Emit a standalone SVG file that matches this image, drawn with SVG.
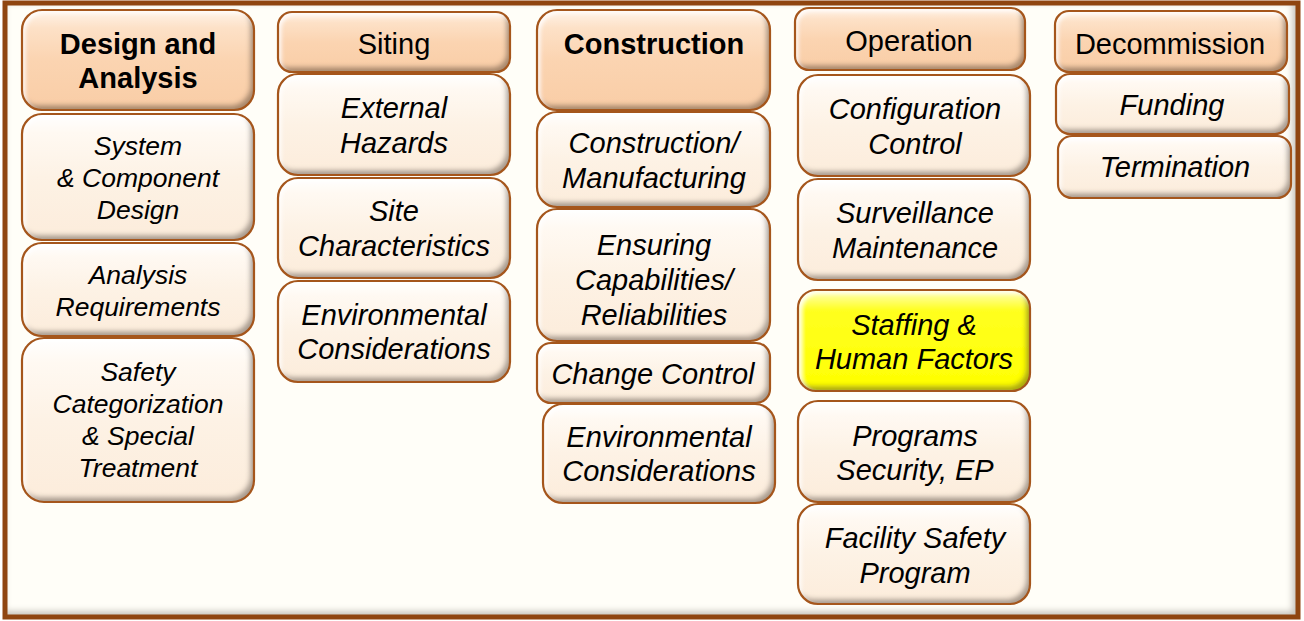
<svg xmlns="http://www.w3.org/2000/svg" width="1304" height="621" viewBox="0 0 1304 621">
  <defs>
    <linearGradient id="gHead" x1="0" y1="0" x2="0" y2="1">
      <stop offset="0" stop-color="#fff4ea"/>
      <stop offset="0.18" stop-color="#fde1c7"/>
      <stop offset="0.5" stop-color="#fbd4b1"/>
      <stop offset="1" stop-color="#f9cda6"/>
    </linearGradient>
    <linearGradient id="gItem" x1="0" y1="0" x2="0" y2="1">
      <stop offset="0" stop-color="#ffffff"/>
      <stop offset="0.15" stop-color="#fff9f2"/>
      <stop offset="0.5" stop-color="#fdf2e5"/>
      <stop offset="1" stop-color="#fcecdb"/>
    </linearGradient>
    <linearGradient id="gHi" x1="0" y1="0" x2="0" y2="1">
      <stop offset="0" stop-color="#ffffc0"/>
      <stop offset="0.2" stop-color="#ffff20"/>
      <stop offset="1" stop-color="#ffff00"/>
    </linearGradient>
    <!-- inner shading on the lower-right edge of each tile, light on the upper-left -->
    <filter id="bevel" x="-5%" y="-10%" width="110%" height="120%">
      <feOffset in="SourceAlpha" dx="-4" dy="-5" result="off"/>
      <feGaussianBlur in="off" stdDeviation="2.5" result="blur"/>
      <feComposite in="SourceAlpha" in2="blur" operator="out" result="edge"/>
      <feFlood flood-color="#3e2818" flood-opacity="0.62"/>
      <feComposite in2="edge" operator="in" result="shade"/>
      <feOffset in="SourceAlpha" dx="3" dy="3" result="off2"/>
      <feGaussianBlur in="off2" stdDeviation="2" result="blur2"/>
      <feComposite in="SourceAlpha" in2="blur2" operator="out" result="edge2"/>
      <feFlood flood-color="#ffffff" flood-opacity="0.9"/>
      <feComposite in2="edge2" operator="in" result="light"/>
      <feMerge>
        <feMergeNode in="SourceGraphic"/>
        <feMergeNode in="shade"/>
        <feMergeNode in="light"/>
      </feMerge>
    </filter>
    <filter id="frameBevel" x="0" y="0" width="100%" height="100%">
      <feOffset in="SourceAlpha" dx="-6" dy="-6" result="off"/>
      <feGaussianBlur in="off" stdDeviation="3" result="blur"/>
      <feComposite in="SourceAlpha" in2="blur" operator="out" result="edge"/>
      <feFlood flood-color="#6a5a4a" flood-opacity="0.5"/>
      <feComposite in2="edge" operator="in" result="shade"/>
      <feMerge>
        <feMergeNode in="SourceGraphic"/>
        <feMergeNode in="shade"/>
      </feMerge>
    </filter>
  </defs>
  <style>
    .head { fill: url(#gHead); filter: url(#bevel); }
    .item { fill: url(#gItem); filter: url(#bevel); }
    .hi { fill: url(#gHi); filter: url(#bevel); }
    .edge { fill: none; stroke: #a5561c; stroke-width: 2.2; }
    text { font-family: "Liberation Sans", Arial, sans-serif; fill: #000; text-anchor: middle; }
    .hb { font-size: 29px; font-weight: bold; }
    .hr { font-size: 29px; }
    .it { font-size: 29px; font-style: italic; }
    .is { font-size: 26.5px; font-style: italic; }
  </style>

  <!-- outer frame -->
  <g id="frame">
    <rect x="0" y="0" width="1304" height="621" fill="#ffffff"/>
    <rect x="5" y="3" width="1293" height="614" fill="#fffef8" filter="url(#frameBevel)"/>
    <rect x="5" y="3" width="1293" height="614" fill="none" stroke="#8f4510" stroke-width="5"/>
  </g>

  <!-- Column 1 -->
  <g id="design-analysis">
    <rect class="head" x="22" y="10" width="232" height="100" rx="20"/>
    <rect class="edge" x="22" y="10" width="232" height="100" rx="20"/>
    <text class="hb" x="138" y="54">Design and</text>
    <text class="hb" x="138" y="88">Analysis</text>
  </g>
  <g id="system-component-design">
    <rect class="item" x="22" y="114" width="232" height="126" rx="20"/>
    <rect class="edge" x="22" y="114" width="232" height="126" rx="20"/>
    <text class="is" x="138" y="155">System</text>
    <text class="is" x="138" y="187">&amp; Component</text>
    <text class="is" x="138" y="219">Design</text>
  </g>
  <g id="analysis-requirements">
    <rect class="item" x="22" y="243" width="232" height="93" rx="20"/>
    <rect class="edge" x="22" y="243" width="232" height="93" rx="20"/>
    <text class="is" x="138" y="284">Analysis</text>
    <text class="is" x="138" y="316">Requirements</text>
  </g>
  <g id="safety-categorization">
    <rect class="item" x="22" y="338" width="232" height="164" rx="22"/>
    <rect class="edge" x="22" y="338" width="232" height="164" rx="22"/>
    <text class="is" x="138" y="381">Safety</text>
    <text class="is" x="138" y="413">Categorization</text>
    <text class="is" x="138" y="445">&amp; Special</text>
    <text class="is" x="138" y="477">Treatment</text>
  </g>

  <!-- Column 2 -->
  <g id="siting">
    <rect class="head" x="278" y="12" width="232" height="60" rx="14"/>
    <rect class="edge" x="278" y="12" width="232" height="60" rx="14"/>
    <text class="hr" x="394" y="54">Siting</text>
  </g>
  <g id="external-hazards">
    <rect class="item" x="278" y="74" width="232" height="101" rx="20"/>
    <rect class="edge" x="278" y="74" width="232" height="101" rx="20"/>
    <text class="it" x="394" y="118">External</text>
    <text class="it" x="394" y="153">Hazards</text>
  </g>
  <g id="site-characteristics">
    <rect class="item" x="278" y="178" width="232" height="100" rx="20"/>
    <rect class="edge" x="278" y="178" width="232" height="100" rx="20"/>
    <text class="it" x="394" y="221">Site</text>
    <text class="it" x="394" y="256">Characteristics</text>
  </g>
  <g id="siting-environmental">
    <rect class="item" x="278" y="281" width="232" height="101" rx="20"/>
    <rect class="edge" x="278" y="281" width="232" height="101" rx="20"/>
    <text class="it" x="394" y="325">Environmental</text>
    <text class="it" x="394" y="359">Considerations</text>
  </g>

  <!-- Column 3 -->
  <g id="construction">
    <rect class="head" x="537" y="10" width="233" height="100" rx="20"/>
    <rect class="edge" x="537" y="10" width="233" height="100" rx="20"/>
    <text class="hb" x="654" y="54">Construction</text>
  </g>
  <g id="construction-manufacturing">
    <rect class="item" x="537" y="112" width="233" height="95" rx="20"/>
    <rect class="edge" x="537" y="112" width="233" height="95" rx="20"/>
    <text class="it" x="654" y="153">Construction/</text>
    <text class="it" x="654" y="188">Manufacturing</text>
  </g>
  <g id="ensuring-capabilities">
    <rect class="item" x="537" y="209" width="233" height="132" rx="20"/>
    <rect class="edge" x="537" y="209" width="233" height="132" rx="20"/>
    <text class="it" x="654" y="255">Ensuring</text>
    <text class="it" x="654" y="290">Capabilities/</text>
    <text class="it" x="654" y="325">Reliabilities</text>
  </g>
  <g id="change-control">
    <rect class="item" x="537" y="343" width="233" height="60" rx="14"/>
    <rect class="edge" x="537" y="343" width="233" height="60" rx="14"/>
    <text class="it" x="653" y="384">Change Control</text>
  </g>
  <g id="construction-environmental">
    <rect class="item" x="543" y="404" width="232" height="99" rx="20"/>
    <rect class="edge" x="543" y="404" width="232" height="99" rx="20"/>
    <text class="it" x="659" y="447">Environmental</text>
    <text class="it" x="659" y="481">Considerations</text>
  </g>

  <!-- Column 4 -->
  <g id="operation">
    <rect class="head" x="795" y="8" width="230" height="62" rx="14"/>
    <rect class="edge" x="795" y="8" width="230" height="62" rx="14"/>
    <text class="hr" x="909" y="51">Operation</text>
  </g>
  <g id="configuration-control">
    <rect class="item" x="798" y="75" width="232" height="101" rx="20"/>
    <rect class="edge" x="798" y="75" width="232" height="101" rx="20"/>
    <text class="it" x="915" y="119">Configuration</text>
    <text class="it" x="915" y="154">Control</text>
  </g>
  <g id="surveillance-maintenance">
    <rect class="item" x="798" y="179" width="232" height="101" rx="20"/>
    <rect class="edge" x="798" y="179" width="232" height="101" rx="20"/>
    <text class="it" x="915" y="223">Surveillance</text>
    <text class="it" x="915" y="258">Maintenance</text>
  </g>
  <g id="staffing-human-factors">
    <rect class="hi" x="798" y="290" width="232" height="101" rx="18"/>
    <rect class="edge" x="798" y="290" width="232" height="101" rx="18"/>
    <text class="it" x="914" y="335">Staffing &amp;</text>
    <text class="it" x="914" y="369">Human Factors</text>
  </g>
  <g id="programs-security">
    <rect class="item" x="798" y="401" width="232" height="101" rx="20"/>
    <rect class="edge" x="798" y="401" width="232" height="101" rx="20"/>
    <text class="it" x="915" y="446">Programs</text>
    <text class="it" x="915" y="480">Security, EP</text>
  </g>
  <g id="facility-safety-program">
    <rect class="item" x="798" y="504" width="232" height="100" rx="20"/>
    <rect class="edge" x="798" y="504" width="232" height="100" rx="20"/>
    <text class="it" x="915" y="548">Facility Safety</text>
    <text class="it" x="915" y="583">Program</text>
  </g>

  <!-- Column 5 -->
  <g id="decommission">
    <rect class="head" x="1055" y="11" width="232" height="61" rx="14"/>
    <rect class="edge" x="1055" y="11" width="232" height="61" rx="14"/>
    <text class="hr" x="1170" y="54">Decommission</text>
  </g>
  <g id="funding">
    <rect class="item" x="1056" y="74" width="233" height="60" rx="14"/>
    <rect class="edge" x="1056" y="74" width="233" height="60" rx="14"/>
    <text class="it" x="1172" y="115">Funding</text>
  </g>
  <g id="termination">
    <rect class="item" x="1058" y="136" width="233" height="62" rx="14"/>
    <rect class="edge" x="1058" y="136" width="233" height="62" rx="14"/>
    <text class="it" x="1175" y="177">Termination</text>
  </g>

  <g id="connectors"/>
</svg>
